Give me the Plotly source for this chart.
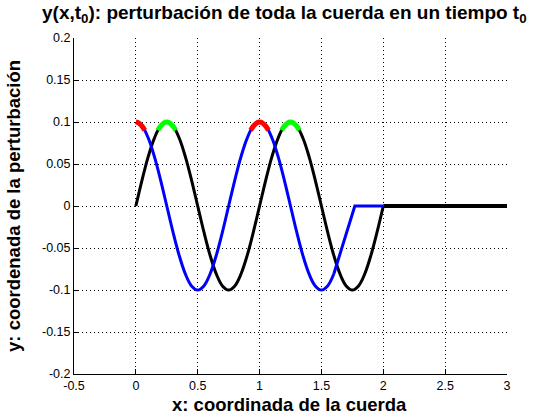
import plotly.graph_objects as go

# ---- data ----
x_black = [0.00, 0.05, 0.10, 0.15, 0.20, 0.25, 0.30, 0.35, 0.40, 0.45, 0.50,
           0.55, 0.60, 0.65, 0.70, 0.75, 0.80, 0.85, 0.90, 0.95, 1.00,
           1.05, 1.10, 1.15, 1.20, 1.25, 1.30, 1.35, 1.40, 1.45, 1.50,
           1.55, 1.60, 1.65, 1.70, 1.75, 1.80, 1.85, 1.90, 1.95, 2.00]
y_black = [0.0, 0.0309, 0.0588, 0.0809, 0.0951, 0.1, 0.0951, 0.0809, 0.0588, 0.0309, 0.0,
           -0.0309, -0.0588, -0.0809, -0.0951, -0.1, -0.0951, -0.0809, -0.0588, -0.0309, 0.0,
           0.0309, 0.0588, 0.0809, 0.0951, 0.1, 0.0951, 0.0809, 0.0588, 0.0309, 0.0,
           -0.0309, -0.0588, -0.0809, -0.0951, -0.1, -0.0951, -0.0809, -0.0588, -0.0309, 0.0]
x_black_flat = [2.0, 3.0]
y_black_flat = [0.0, 0.0]

x_blue = [0.00, 0.05, 0.10, 0.15, 0.20, 0.25, 0.30, 0.35, 0.40, 0.45, 0.50,
          0.55, 0.60, 0.65, 0.70, 0.75, 0.80, 0.85, 0.90, 0.95, 1.00,
          1.05, 1.10, 1.15, 1.20, 1.25, 1.30, 1.35, 1.40, 1.45, 1.50,
          1.55, 1.60]
y_blue = [0.1, 0.0951, 0.0809, 0.0588, 0.0309, 0.0, -0.0309, -0.0588, -0.0809, -0.0951, -0.1,
          -0.0951, -0.0809, -0.0588, -0.0309, 0.0, 0.0309, 0.0588, 0.0809, 0.0951, 0.1,
          0.0951, 0.0809, 0.0588, 0.0309, 0.0, -0.0309, -0.0588, -0.0809, -0.0951, -0.1,
          -0.0951, -0.0809]
x_blue_tail = [1.60, 1.77, 2.0]
y_blue_tail = [-0.0809, 0.0, 0.0]

x_red1 = [0.0, 0.025, 0.05, 0.072]
y_red1 = [0.1, 0.0988, 0.0951, 0.0901]
x_red2 = [0.928, 0.95, 0.975, 1.0, 1.025, 1.05, 1.072]
y_red2 = [0.0901, 0.0951, 0.0988, 0.1, 0.0988, 0.0951, 0.0901]
x_green1 = [0.178, 0.2, 0.225, 0.25, 0.275, 0.3, 0.322]
y_green1 = [0.0901, 0.0951, 0.0988, 0.1, 0.0988, 0.0951, 0.0901]
x_green2 = [1.178, 1.2, 1.225, 1.25, 1.275, 1.3, 1.322]
y_green2 = [0.0901, 0.0951, 0.0988, 0.1, 0.0988, 0.0951, 0.0901]

x_ticks = [-0.5, 0, 0.5, 1, 1.5, 2, 2.5, 3]
x_tick_labels = ["-0.5", "0", "0.5", "1", "1.5", "2", "2.5", "3"]
y_ticks = [-0.2, -0.15, -0.1, -0.05, 0, 0.05, 0.1, 0.15, 0.2]
y_tick_labels = ["-0.2", "-0.15", "-0.1", "-0.05", "0", "0.05", "0.1", "0.15", "0.2"]

title_text = "y(x,t<sub>0</sub>): perturbación de toda la cuerda en un tiempo t<sub>0</sub>"
x_title = "x: coordinada de la cuerda"
y_title = "y: coordenada de la perturbación"

fig = go.Figure()

def add(x, y, color, width, shape="spline"):
    fig.add_trace(go.Scatter(x=x, y=y, mode="lines",
                             line=dict(color=color, width=width, shape=shape),
                             showlegend=False, hoverinfo="skip"))

add(x_black, y_black, "#000000", 3)
add(x_black_flat, y_black_flat, "#000000", 4, "linear")
add(x_blue, y_blue, "#0000FF", 3)
add(x_blue_tail, y_blue_tail, "#0000FF", 3, "linear")
add(x_red1, y_red1, "#FF0000", 5)
add(x_red2, y_red2, "#FF0000", 5)
add(x_green1, y_green1, "#00FF00", 5)
add(x_green2, y_green2, "#00FF00", 5)

axis_common = dict(
    showline=True, linecolor="black", linewidth=1, mirror=False,
    ticks="inside", ticklen=5, tickcolor="black", tickwidth=1,
    showgrid=True, gridcolor="black", gridwidth=1, griddash="1px,3px",
    zeroline=False, automargin=False,
    tickfont=dict(family="Liberation Sans, Arial, sans-serif", size=12.5, color="black"),
)

fig.update_xaxes(range=[-0.5, 3], tickvals=x_ticks, ticktext=x_tick_labels, **axis_common)
fig.update_yaxes(range=[-0.2, 0.2], tickvals=y_ticks, ticktext=y_tick_labels, **axis_common)

bold = dict(family="Liberation Sans, Arial", size=18.5, color="black", weight="bold")
bold_title = dict(family="Liberation Sans, Arial", size=19, color="black", weight="bold")
fig.update_layout(
    width=560, height=420,
    margin=dict(l=74, r=53, t=38, b=46),
    paper_bgcolor="white", plot_bgcolor="white",
    annotations=[
        dict(text=title_text, xref="paper", yref="paper", x=0.487, y=1.071,
             xanchor="center", yanchor="middle", showarrow=False, font=bold_title),
        dict(text=x_title, xref="paper", yref="paper", x=0.497, y=-0.092,
             xanchor="center", yanchor="middle", showarrow=False, font=bold),
        dict(text=y_title, xref="paper", yref="paper", x=-0.141, y=0.5,
             xanchor="center", yanchor="middle", showarrow=False, textangle=-90, font=bold),
    ],
)

fig.write_html("out.html", config={"displayModeBar": False},
               post_script="document.body.style.margin='0';document.body.style.overflow='hidden';")
